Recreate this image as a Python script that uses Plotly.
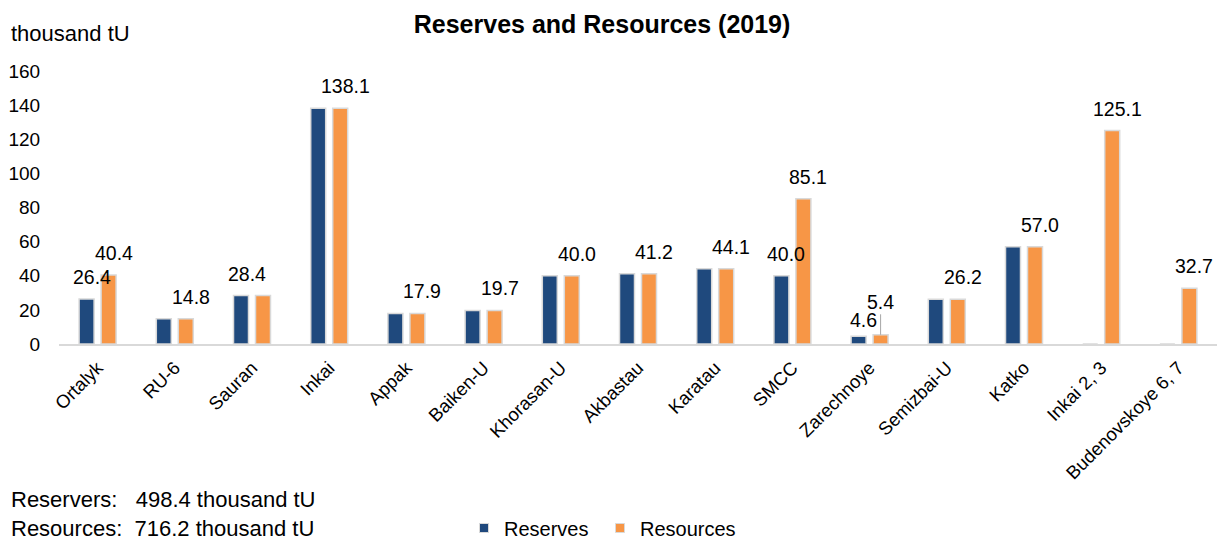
import plotly.graph_objects as go

categories = ["Ortalyk", "RU-6", "Sauran", "Inkai", "Appak", "Baiken-U", "Khorasan-U",
              "Akbastau", "Karatau", "SMCC", "Zarechnoye", "Semizbai-U", "Katko",
              "Inkai 2, 3", "Budenovskoye 6, 7"]
reserves = [26.4, 14.8, 28.4, 138.1, 17.9, 19.7, 40.0, 41.2, 44.1, 40.0, 4.6, 26.2, 57.0, 0.0, 0.0]
resources = [40.4, 14.8, 28.4, 138.1, 17.9, 19.7, 40.0, 41.2, 44.1, 85.1, 5.4, 26.2, 57.0, 125.1, 32.7]
y_ticks = [0, 20, 40, 60, 80, 100, 120, 140, 160]

total_reserves = "498.4"
total_resources = "716.2"

FONT = "Liberation Sans, Arial, sans-serif"
BLUE = "#1F497D"
ORANGE = "#F79646"
EDGE = "#D9D9D9"

# style tweaks for individual labels (pixels)
label_nudge_x = {"Sauran": -21}
leader_labels = {"Zarechnoye": -33}

fig = go.Figure()
fig.add_trace(go.Bar(x=categories, y=reserves, name="Reserves", marker_color=BLUE,
                     marker_line=dict(color=EDGE, width=1.5), showlegend=False))
fig.add_trace(go.Bar(x=categories, y=resources, name="Resources", marker_color=ORANGE,
                     marker_line=dict(color=EDGE, width=1.5), showlegend=False))
# legend entries with small square markers
fig.add_trace(go.Scatter(x=[None], y=[None], mode="markers", name="Reserves",
                         marker=dict(symbol="square", size=9, color=BLUE, line=dict(color=EDGE, width=1))))
fig.add_trace(go.Scatter(x=[None], y=[None], mode="markers", name="Resources",
                         marker=dict(symbol="square", size=9, color=ORANGE, line=dict(color=EDGE, width=1))))

LABEL_FONT = dict(size=19.5, color="#000", family=FONT)
annotations = []
for c, rv, rs in zip(categories, reserves, resources):
    if rs > 0:
        if c in leader_labels:
            annotations.append(dict(x=c, y=rs, xref="x", yref="y", text=f"{rs:.1f}",
                                    xshift=11, showarrow=True, arrowhead=0, arrowwidth=1,
                                    arrowcolor="#A6A6A6", ax=0, ay=leader_labels[c],
                                    font=LABEL_FONT))
        else:
            annotations.append(dict(x=c, y=rs, xref="x", yref="y", text=f"{rs:.1f}",
                                    xshift=16 + label_nudge_x.get(c, 0), yshift=22,
                                    yanchor="middle", showarrow=False, font=LABEL_FONT))
    if rv > 0 and rv != rs:
        annotations.append(dict(x=c, y=rv, xref="x", yref="y", text=f"{rv:.1f}",
                                xshift=-6, yshift=22 if rv > 10 else 16, yanchor="middle",
                                showarrow=False, font=LABEL_FONT))

annotations.append(dict(x=-0.0432, y=1.139, xref="paper", yref="paper", text="thousand tU",
                        xanchor="left", yanchor="middle", showarrow=False,
                        font=dict(size=22, color="#000", family=FONT)))
annotations.append(dict(x=-0.0432, y=-0.623, xref="paper", yref="paper",
                        text=f"Reservers:\u00a0\u00a0\u00a0{total_reserves} thousand tU<br>"
                             f"Resources:\u00a0\u00a0{total_resources} thousand tU",
                        xanchor="left", yanchor="middle", align="left", showarrow=False,
                        font=dict(size=22, color="#000", family=FONT)))

fig.update_layout(
    width=1217, height=542,
    margin=dict(l=59, r=0, t=71, b=198, autoexpand=False),
    paper_bgcolor="white", plot_bgcolor="white",
    font=dict(family=FONT, color="#000"),
    title=dict(text="<b>Reserves and Resources (2019)</b>", x=0.4947, xanchor="center",
               y=1 - 24 / 542, yanchor="middle", yref="container",
               font=dict(size=25, color="#000", family=FONT)),
    barmode="group", bargap=0.43, bargroupgap=0.318,
    xaxis=dict(showline=True, linecolor=EDGE, linewidth=1.5, showgrid=False,
               tickangle=-45, tickfont=dict(size=18.5, color="#000", family=FONT),
               ticks="outside", ticklen=4, tickcolor="rgba(0,0,0,0)", automargin=False),
    yaxis=dict(range=[0, 160], tickvals=y_ticks, showgrid=False, showline=False,
               zeroline=False, ticks="outside", ticklen=14, tickcolor="rgba(0,0,0,0)",
               tickfont=dict(size=19, color="#000", family=FONT), automargin=False),
    legend=dict(orientation="h", x=(464 - 59) / 1158, xanchor="left",
                y=-0.674, yanchor="middle",
                font=dict(size=20, color="#000", family=FONT), entrywidth=91,
                entrywidthmode="pixels", itemwidth=30, bgcolor="rgba(0,0,0,0)"),
    annotations=annotations,
)

fig.write_html("out.html")
